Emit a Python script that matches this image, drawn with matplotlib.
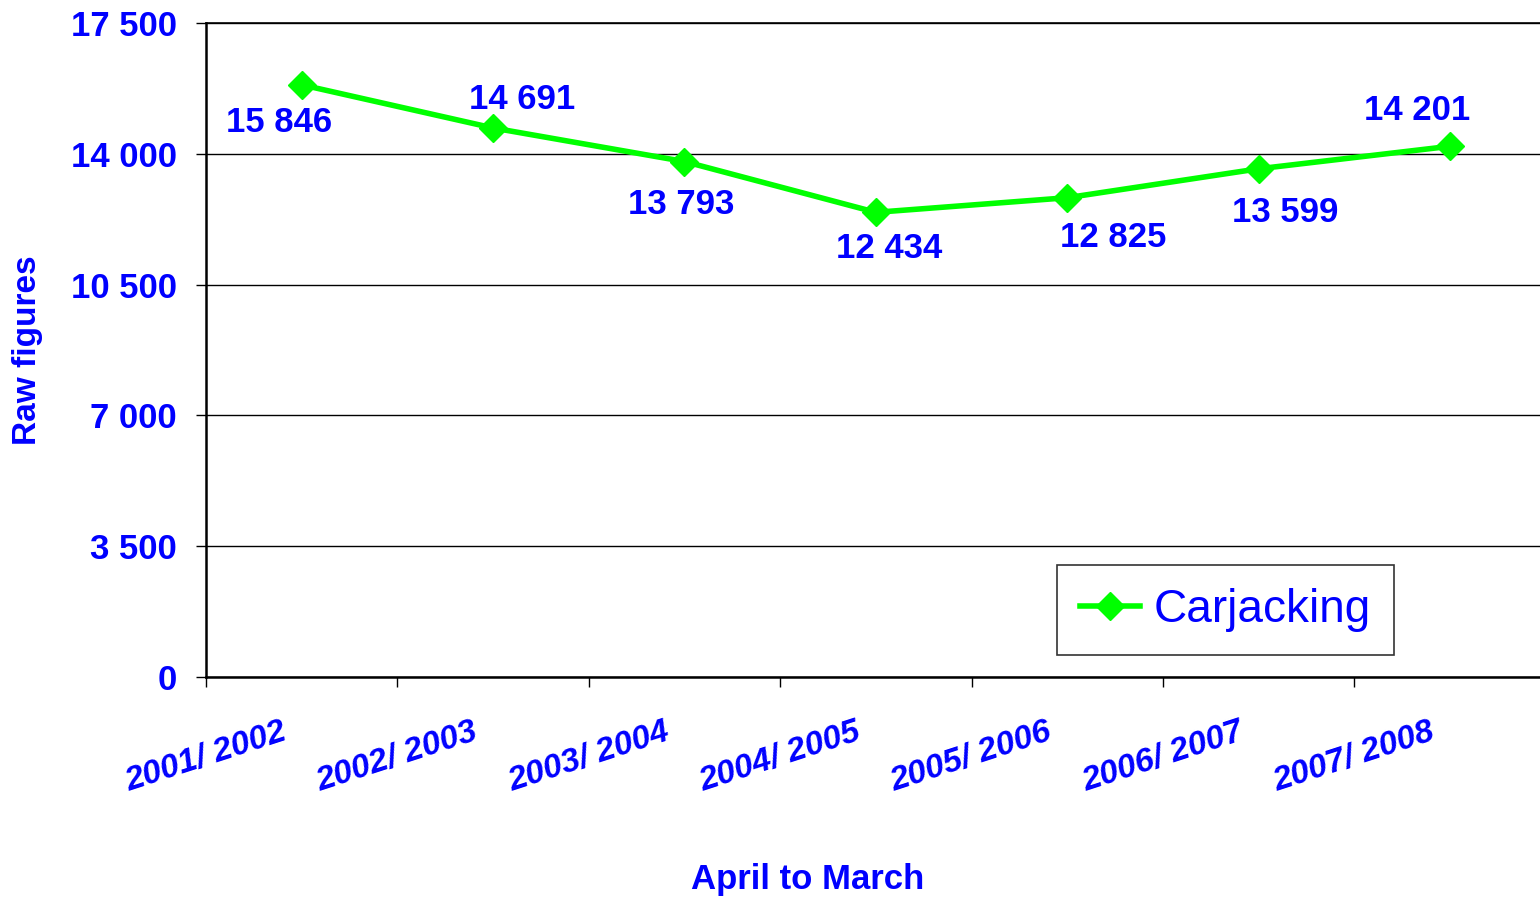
import matplotlib.pyplot as plt
from matplotlib.ticker import FuncFormatter

plt.rcParams['font.family'] = ['Liberation Sans', 'DejaVu Sans']

# Data
periods = ['2001/ 2002', '2002/ 2003', '2003/ 2004', '2004/ 2005',
           '2005/ 2006', '2006/ 2007', '2007/ 2008']
carjacking = [15846, 14691, 13793, 12434, 12825, 13599, 14201]
y_ticks = [0, 3500, 7000, 10500, 14000, 17500]

# label offsets in pixels (layout only)
label_offsets = [(-23, 38), (29, -28), (-3, 43), (13, 36), (46, 40), (27, 44), (-33, -36)]

blue = '#0000FF'
green = '#00FF00'

fig = plt.figure(figsize=(15.4, 8.98), dpi=100)
ax = fig.add_axes([206 / 1540, 221 / 898, 1 - 206 / 1540, 654 / 898])

xs = [i + 0.5 for i in range(len(periods))]
ax.plot(xs, carjacking, color=green, linewidth=4, marker='D', markersize=14,
        label='Carjacking', zorder=3, clip_on=False)

for x, v, (dx, dy) in zip(xs, carjacking, label_offsets):
    ax.annotate('{:,}'.format(v).replace(',', ' '), (x, v), xytext=(dx, -dy),
                textcoords='offset pixels', ha='center', va='center',
                fontsize=25, fontweight='bold', color=blue)

ax.set_xlim(0, 6.97)
ax.set_ylim(0, 17500)
ax.set_yticks(y_ticks)
ax.yaxis.set_major_formatter(FuncFormatter(lambda v, p: '{:,}'.format(int(v)).replace(',', ' ')))
ax.set_xticks(range(len(periods)))
ax.set_xticklabels([''] * len(periods))
for i, p in enumerate(periods):
    ax.text(i, -0.06, p, transform=ax.get_xaxis_transform(), rotation=18,
            ha='center', va='top', fontsize=24, fontweight='bold', style='italic',
            color=blue)

ax.tick_params(axis='y', direction='out', length=7, width=1, pad=14,
               labelsize=25, labelcolor=blue)
ax.tick_params(axis='x', direction='out', length=7, width=1)
for lbl in ax.get_yticklabels():
    lbl.set_fontweight('bold')

ax.grid(axis='y', color='black', linewidth=1)
ax.set_axisbelow(True)
ax.spines['right'].set_visible(False)
ax.spines['top'].set_linewidth(1.2)
ax.spines['left'].set_linewidth(1.8)
ax.spines['bottom'].set_linewidth(1.8)

fig.text(808 / 1540, 1 - 880 / 898, 'April to March', ha='center', va='center',
         fontsize=25, fontweight='bold', color=blue)
fig.text(28 / 1540, 1 - 350 / 898, 'Raw figures', ha='center', va='center',
         rotation=90, fontsize=24, fontweight='bold', color=blue)

leg = ax.legend(loc='lower left', bbox_to_anchor=(0.638, 0.034), fontsize=33,
                frameon=True, fancybox=False, edgecolor='black', handlelength=1.3,
                borderpad=0.5, handletextpad=0.3, borderaxespad=0)
leg.get_frame().set_linewidth(1.2)
for t in leg.get_texts():
    t.set_color(blue)

fig.savefig('out.png', dpi=100)
